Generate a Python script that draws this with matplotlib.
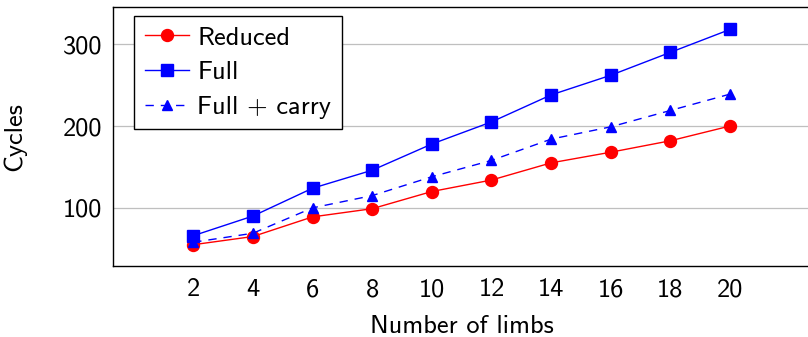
import matplotlib
matplotlib.use("Agg")
import matplotlib.pyplot as plt

limbs = [2, 4, 6, 8, 10, 12, 14, 16, 18, 20]
reduced = [55, 65, 89, 99, 120, 134, 155, 168, 182, 200]
full = [66, 90, 124, 146, 178, 205, 238, 262, 290, 318]
full_carry = [58, 69, 100, 115, 138, 158, 184, 199, 219, 239]
yticks = [100, 200, 300]

plt.rcParams['font.family'] = ['cmss10', 'DejaVu Sans']
plt.rcParams['axes.unicode_minus'] = False

fig = plt.figure(figsize=(8.08, 3.37), dpi=100)
W, H = 808, 337
l, r, b, t = 113.3, 810, 266, 6.5
ax = fig.add_axes([l / W, (H - b) / H, (r - l) / W, (b - t) / H])

ax.plot(limbs, reduced, color=(1, 0, 0), lw=1.0, marker='o', ms=8.6, label='Reduced', zorder=3)
ax.plot(limbs, full, color=(0, 0, 1), lw=1.0, marker='s', ms=8.0, label='Full', zorder=3)
ax.plot(limbs, full_carry, color=(0, 0, 1), lw=1.0, ls=(0, (6, 5)), marker='^', ms=7.5,
        label='Full + carry', zorder=3)

ax.set_xlim(-0.68, 22.68)
ax.set_ylim(29, 346)
ax.set_xticks(limbs)
ax.set_yticks(yticks)
ax.tick_params(length=0, labelsize=19)
ax.tick_params(axis='y', pad=8)
ax.tick_params(axis='x', pad=9)
ax.grid(axis='y', color='#bfbfbf', lw=0.9)
ax.set_axisbelow(True)
for s in ax.spines.values():
    s.set_linewidth(1.0)

ax.set_xlabel('Number of limbs', fontsize=19, labelpad=10)
ax.set_ylabel('Cycles', fontsize=19, labelpad=26)

leg = ax.legend(loc='upper left', fontsize=19, frameon=True, fancybox=False,
                edgecolor='black', framealpha=1, borderpad=0.4, labelspacing=0.42,
                handlelength=1.7, handletextpad=0.3, borderaxespad=0,
                bbox_to_anchor=((134 - l) / (r - l), (b - 15.7) / (b - t)))
leg.get_frame().set_linewidth(1.0)

fig.savefig('out.png', dpi=100)
